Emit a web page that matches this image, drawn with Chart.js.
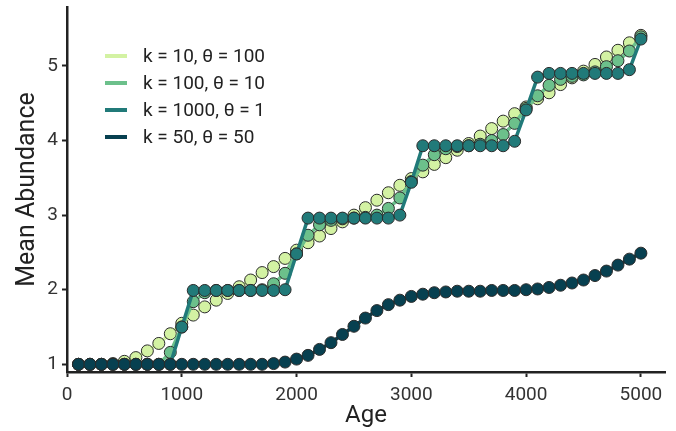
<!DOCTYPE html>
<html>
<head>
<meta charset="utf-8">
<script src="https://cdn.jsdelivr.net/npm/chart.js@4.4.0/dist/chart.umd.min.js"></script>
<style>
html,body{margin:0;padding:0;background:#fff;}
#wrap{width:676px;height:431px;}
</style>
</head>
<body>
<div id="wrap"><canvas id="c" width="676" height="431"></canvas></div>
<script>
// ages 100..5000, step 100
var ages = [100,200,300,400,500,600,700,800,900,1000,
  1100,1200,1300,1400,1500,1600,1700,1800,1900,2000,
  2100,2200,2300,2400,2500,2600,2700,2800,2900,3000,
  3100,3200,3300,3400,3500,3600,3700,3800,3900,4000,
  4100,4200,4300,4400,4500,4600,4700,4800,4900,5000];

var labels = ['k = 10, \u03b8 = 100', 'k = 100, \u03b8 = 10', 'k = 1000, \u03b8 = 1', 'k = 50, \u03b8 = 50'];
var colors = ['#d3f2a3', '#6cc08b', '#217a79', '#074050'];

var k10 = [1.0,1.0,1.0,1.01,1.04,1.09,1.18,1.28,1.41,1.55,
  1.66,1.77,1.86,1.95,2.04,2.13,2.23,2.31,2.42,2.53,
  2.63,2.72,2.82,2.91,3.0,3.1,3.2,3.3,3.4,3.49,
  3.58,3.68,3.77,3.87,3.96,4.06,4.16,4.26,4.36,4.45,
  4.56,4.64,4.75,4.84,4.93,5.02,5.12,5.21,5.31,5.41];

var k100 = [1.0,1.0,1.0,1.0,1.0,1.0,1.0,1.0,1.16,1.5,
  1.84,1.96,1.99,1.99,1.99,1.99,2.0,2.08,2.22,2.48,
  2.73,2.87,2.93,2.95,2.96,2.97,3.0,3.09,3.23,3.45,
  3.67,3.81,3.89,3.92,3.93,3.95,4.0,4.08,4.23,4.43,
  4.6,4.74,4.82,4.86,4.88,4.92,4.99,5.07,5.2,5.39];

var k1000 = [1.0,1.0,1.0,1.0,1.0,1.0,1.0,1.0,1.0,1.5,
  1.99,1.99,1.99,1.99,1.99,1.99,1.99,1.99,2.0,2.48,
  2.96,2.96,2.96,2.96,2.96,2.96,2.96,2.96,3.0,3.44,
  3.93,3.93,3.93,3.93,3.93,3.93,3.93,3.93,3.99,4.41,
  4.85,4.9,4.9,4.9,4.9,4.9,4.9,4.9,4.95,5.36];

var k50 = [1.0,1.0,1.0,1.0,1.0,1.0,1.0,1.0,1.0,1.0,
  1.0,1.0,1.0,1.0,1.0,1.0,1.0,1.01,1.03,1.07,
  1.12,1.2,1.29,1.4,1.51,1.62,1.72,1.8,1.86,1.91,
  1.94,1.96,1.97,1.98,1.98,1.98,1.99,1.99,1.99,2.0,
  2.01,2.03,2.06,2.09,2.13,2.19,2.25,2.33,2.41,2.49];

var xTicks = [0,1000,2000,3000,4000,5000];
var yTicks = [1,2,3,4,5];

var series = [k10, k100, k1000, k50];

function toPoints(arr){
  return arr.map(function(v,i){ return {x: ages[i], y: v}; });
}

var datasets = series.map(function(s,i){
  return {
    label: labels[i],
    data: toPoints(s),
    borderColor: colors[i],
    backgroundColor: colors[i],
    borderWidth: 3.5,
    pointRadius: 6,
    pointHoverRadius: 6,
    pointBackgroundColor: colors[i],
    pointBorderColor: '#2b2b2b',
    pointBorderWidth: 1,
    order: 4 - i,
    clip: false,
    tension: 0
  };
});

// legend drawn inside the plot, like matplotlib's
var innerLegend = {
  id: 'innerLegend',
  afterDraw: function(chart){
    var ctx = chart.ctx, ca = chart.chartArea;
    ctx.save();
    chart.data.datasets.forEach(function(ds,i){
      var y = 56 + i*27;
      ctx.strokeStyle = ds.borderColor;
      ctx.lineWidth = 4;
      ctx.beginPath();
      ctx.moveTo(ca.left + 38, y);
      ctx.lineTo(ca.left + 60, y);
      ctx.stroke();
      ctx.fillStyle = '#222';
      ctx.font = '19px Roboto';
      ctx.textBaseline = 'middle';
      ctx.fillText(ds.label, ca.left + 76, y + 1);
    });
    ctx.restore();
  }
};

var ctx = document.getElementById('c').getContext('2d');
new Chart(ctx, {
  type: 'line',
  data: {datasets: datasets},
  options: {
    responsive: false,
    animation: false,
    layout: {padding: {top: 6, right: 11, left: 0, bottom: 0}},
    plugins: {
      legend: {display: false},
      tooltip: {enabled: false}
    },
    scales: {
      x: {
        type: 'linear',
        min: 0,
        max: 5210,
        afterBuildTicks: function(s){ s.ticks = xTicks.map(function(v){ return {value: v}; }); },
        afterFit: function(s){ s.height = 59; s.paddingLeft = 0; s.paddingRight = 0; },
        border: {display: true, color: '#222', width: 2.5},
        grid: {display: true, drawOnChartArea: false, drawTicks: true, tickLength: 5, tickWidth: 2, color: '#222'},
        ticks: {color: '#333', font: {family: 'Roboto', size: 19}, padding: 7, maxRotation: 0,
          callback: function(v){ return String(v); }},
        title: {display: true, text: 'Age', color: '#222', font: {family: 'Roboto', size: 24}, padding: {top: 0, bottom: 1}}
      },
      y: {
        type: 'linear',
        min: 0.897,
        max: 5.79,
        afterBuildTicks: function(s){ s.ticks = yTicks.map(function(v){ return {value: v}; }); },
        afterFit: function(s){ s.width = 67; s.paddingTop = 0; s.paddingBottom = 0; },
        border: {display: true, color: '#222', width: 2.5},
        grid: {display: true, drawOnChartArea: false, drawTicks: true, tickLength: 5, tickWidth: 2, color: '#222'},
        ticks: {color: '#333', font: {family: 'Roboto', size: 19}, padding: 4,
          callback: function(v){ return String(v); }},
        title: {display: true, text: 'Mean Abundance', color: '#222', font: {family: 'Roboto', size: 25}, padding: {top: 13, bottom: 0}}
      }
    }
  },
  plugins: [innerLegend]
});
</script>
</body>
</html>
